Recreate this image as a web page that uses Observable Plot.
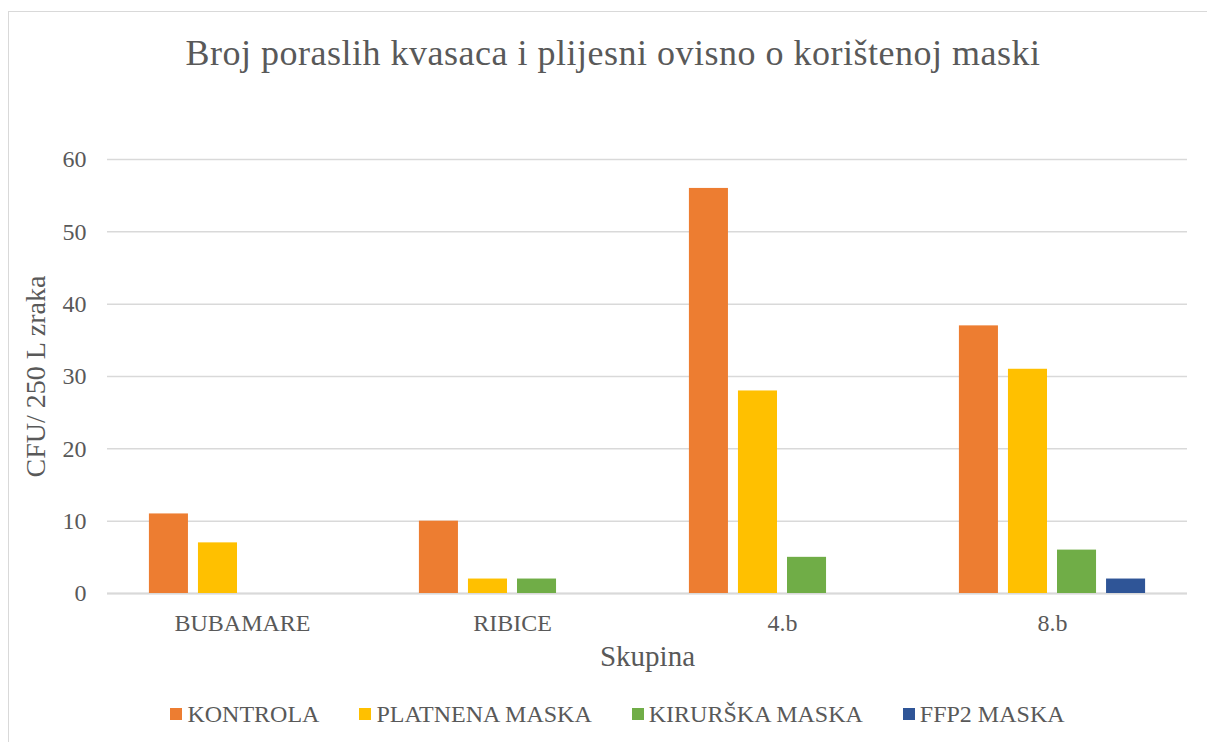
<!DOCTYPE html>
<html>
<head>
<meta charset="utf-8">
<script src="https://cdn.jsdelivr.net/npm/d3@7"></script>
<script src="https://cdn.jsdelivr.net/npm/@observablehq/plot@0.6"></script>
<style>
  html, body { margin: 0; padding: 0; background: #fff; }
  #wrap { position: relative; width: 1207px; height: 742px; overflow: hidden; font-family: "Liberation Serif", "Times New Roman", serif; color: #595959; }
  #frame { position: absolute; left: 8px; top: 11px; width: 1300px; height: 800px; border-left: 1.5px solid #d9d9d9; border-top: 1.5px solid #d9d9d9; }
  #title { position: absolute; left: 9px; width: 1208px; top: 32px; line-height: 42px; font-size: 36px; letter-spacing: 0.5px; text-align: center; white-space: nowrap; }
  #chart { position: absolute; left: 0; top: 100px; }
  #legend { position: absolute; left: 0; width: 1235px; top: 700px; line-height: 28px; font-size: 24px; display: flex; justify-content: center; gap: 40px; white-space: nowrap; }
  #legend .item { display: flex; align-items: center; }
  #legend .sw { width: 12px; height: 12px; margin-right: 5px; }
  #chart svg g[aria-label="y-axis label"] text { font-size: 28px; }
  #chart svg g[aria-label="fx-axis label"] text { font-size: 29px; }
</style>
</head>
<body>
<div id="wrap">
  <div id="frame"></div>
  <div id="title">Broj poraslih kvasaca i plijesni ovisno o korištenoj maski</div>
  <div id="chart"></div>
  <div id="legend"></div>
</div>
<script>
const categories = ["BUBAMARE", "RIBICE", "4.b", "8.b"];
const series = ["KONTROLA", "PLATNENA MASKA", "KIRURŠKA MASKA", "FFP2 MASKA"];
const kontrola = [11, 10, 56, 37];
const platnena = [7, 2, 28, 31];
const kirurska = [0, 2, 5, 6];
const ffp2 = [0, 0, 0, 2];
const seriesColors = ["#ED7D31", "#FFC000", "#70AD47", "#2F5597"];
const yTicks = [0, 10, 20, 30, 40, 50, 60];

const seriesValues = [kontrola, platnena, kirurska, ffp2];
const data = [];
categories.forEach((c, i) => {
  series.forEach((s, j) => {
    data.push({group: c, series: s, value: seriesValues[j][i]});
  });
});

const plot = Plot.plot({
  width: 1207,
  height: 590,
  marginLeft: 107,
  marginRight: 20,
  marginTop: 59,
  marginBottom: 97,
  style: { fontFamily: "Liberation Serif, Times New Roman, serif", fontSize: "24px", color: "#595959", background: "transparent" },
  fx: { domain: categories, padding: 0, round: false },
  x: { domain: series, paddingInner: 0.204, paddingOuter: 0.8545, axis: null, round: false },
  y: { domain: [0, 60] },
  color: { domain: series, range: seriesColors },
  marks: [
    Plot.gridY(yTicks, { stroke: "#d9d9d9", strokeOpacity: 1, strokeWidth: 1.5 }),
    Plot.ruleY([0], { stroke: "#d9d9d9", strokeWidth: 2 }),
    Plot.barY(data, { fx: "group", x: "series", y: "value", fill: "series" }),
    Plot.axisY(yTicks, { tickSize: 0, tickPadding: 21, label: "CFU/ 250 L zraka", labelArrow: "none", labelAnchor: "center", labelOffset: 82, fill: "#595959" }),
    Plot.axisFx({ anchor: "bottom", tickSize: 0, tickPadding: 20, label: "Skupina", labelArrow: "none", labelAnchor: "center", labelOffset: 72, fill: "#595959" })
  ]
});
document.getElementById("chart").appendChild(plot);

const legend = document.getElementById("legend");
series.forEach((s, j) => {
  const item = document.createElement("div");
  item.className = "item";
  const sw = document.createElement("span");
  sw.className = "sw";
  sw.style.background = seriesColors[j];
  const t = document.createElement("span");
  t.textContent = s;
  item.appendChild(sw);
  item.appendChild(t);
  legend.appendChild(item);
});
</script>
</body>
</html>
